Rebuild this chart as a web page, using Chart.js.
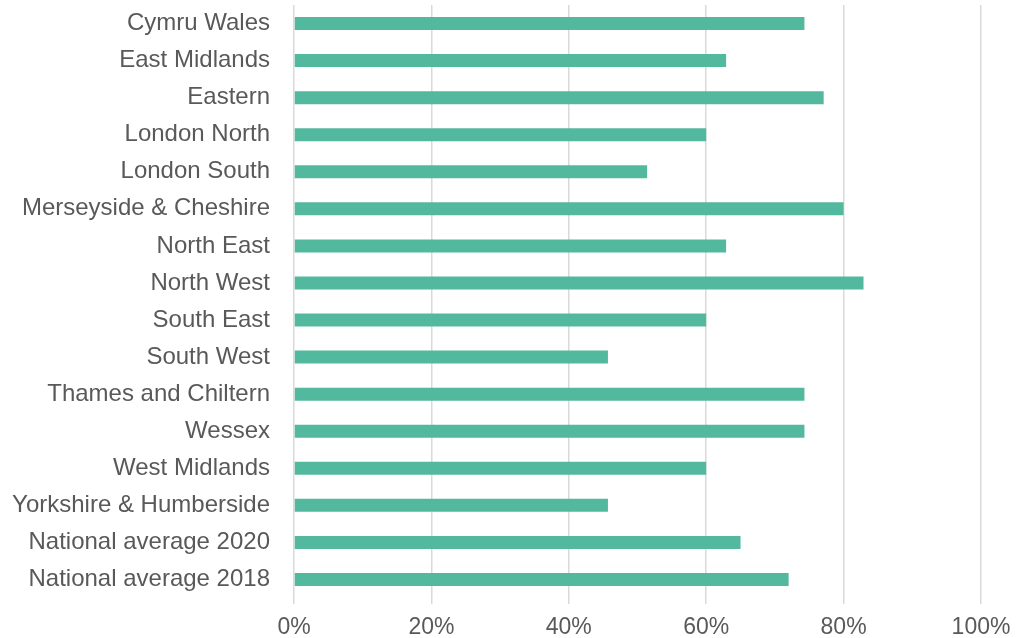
<!DOCTYPE html>
<html><head><meta charset="utf-8">
<script src="https://cdn.jsdelivr.net/npm/chart.js@4"></script>
<style>html,body{margin:0;padding:0;background:#fff}#wrap{width:1021px;height:638px;position:relative}</style>
</head><body><div id="wrap"><canvas id="c" width="1021" height="638"></canvas></div>
<script>
const categories = ["Cymru Wales","East Midlands","Eastern","London North","London South","Merseyside & Cheshire","North East","North West","South East","South West","Thames and Chiltern","Wessex","West Midlands","Yorkshire & Humberside","National average 2020","National average 2018"];
const values = [74.3,62.9,77.1,60,51.4,80,62.9,82.9,60,45.7,74.3,74.3,60,45.7,65,72];
const xTicks = [0,20,40,60,80,100];

new Chart(document.getElementById('c'), {
  type: 'bar',
  data: { labels: categories, datasets: [{ data: values, backgroundColor: '#53B99E', borderWidth: 0, barPercentage: 0.35, categoryPercentage: 1 }] },
  options: {
    indexAxis: 'y', responsive: false, animation: false,
    layout: { padding: { top: 5, right: 40, left: 0, bottom: 0 } },
    plugins: { legend: { display: false }, tooltip: { enabled: false } },
    scales: {
      x: {
        min: 0, max: 100,
        afterBuildTicks: s => { s.ticks = xTicks.map(v => ({ value: v })); },
        ticks: { callback: v => v + '%', color: '#595959', font: { family: 'Liberation Sans', size: 23 }, padding: 10 },
        grid: { color: '#d9d9d9', lineWidth: 1.5, drawTicks: true, tickLength: 6 },
        border: { display: false },
        afterFit: s => { s.height = 40; s.paddingLeft = 0; s.paddingRight = 0; }
      },
      y: {
        ticks: { color: '#595959', font: { family: 'Liberation Sans', size: 24 }, padding: 16 },
        grid: { display: false },
        border: { display: false },
        afterFit: s => { s.width = 294; s.paddingTop = 0; s.paddingBottom = 0; }
      }
    }
  }
});
</script></body></html>
